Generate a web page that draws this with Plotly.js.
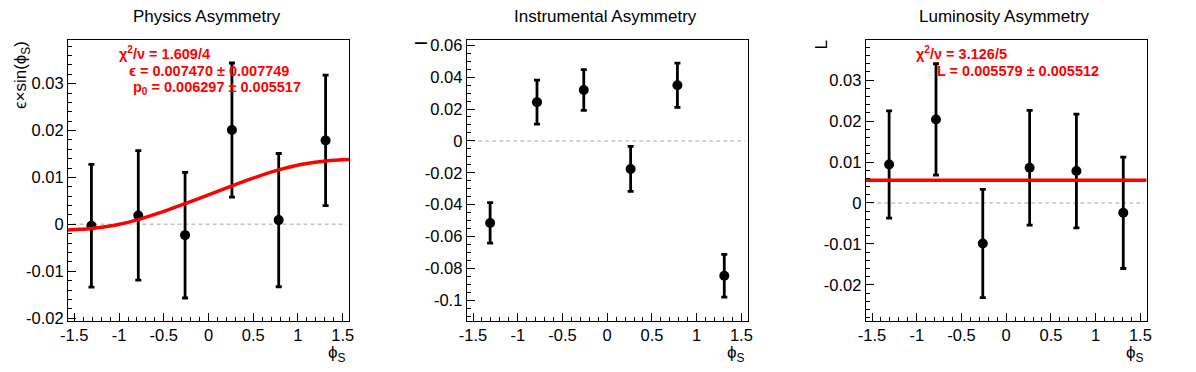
<!DOCTYPE html>
<html><head><meta charset="utf-8">
<script src="https://cdn.plot.ly/plotly-3.0.1.min.js"></script>
<style>html,body{margin:0;padding:0;background:#fff}#c{width:1196px;height:372px}</style>
</head><body><div id="c"></div>
<script>
// ---------- data ----------
const binCenters = [-1.309, -0.785, -0.262, 0.262, 0.785, 1.309];

const physVals = [-0.0003, 0.0019, -0.0023, 0.0201, 0.0009, 0.0179];
const physErrs = [0.0131, 0.0138, 0.0134, 0.0143, 0.0142, 0.0139];

const instVals = [-0.0515, 0.0243, 0.0319, -0.0176, 0.0349, -0.0846];
const instErrs = [0.0127, 0.0138, 0.0128, 0.0141, 0.0139, 0.0134];

const lumiVals = [0.0094, 0.0204, -0.0099, 0.0086, 0.0078, -0.0024];
const lumiErrs = [0.0131, 0.0136, 0.0132, 0.0140, 0.0139, 0.0136];

// fit curve of panel 1
const physFitX = [-1.5708, -1.309, -1.047, -0.785, -0.524, -0.262, 0, 0.262, 0.524, 0.785, 1.047, 1.309, 1.5708];
const physFitY = [-0.0012, -0.0009, -0.0002, 0.0010, 0.0026, 0.0044, 0.0063, 0.0082, 0.0100, 0.0116, 0.0128, 0.0135, 0.0138];
// constant fit of panel 3
const lumiFitX = [-1.5708, 1.5708];
const lumiFitY = [0.005579, 0.005579];

const titles = ["Physics Asymmetry", "Instrumental Asymmetry", "Luminosity Asymmetry"];
const yTitles = ["ϵ×sin(ϕ<sub>S</sub>)", "I", "L"];
const xTitle = "ϕ<sub>S</sub>";
const physStats = ["χ<sup>2</sup>/ν = 1.609/4", "ϵ = 0.007470 ± 0.007749", "p<sub>0</sub> = 0.006297 ± 0.005517"];
const lumiStats = ["χ<sup>2</sup>/ν = 3.126/5", "L = 0.005579 ± 0.005512"];

const xTickVals = [-1.5, -1, -0.5, 0, 0.5, 1, 1.5];
const xTickText = ["-1.5", "-1", "-0.5", "0", "0.5", "1", "1.5"];
const y1TickVals = [-0.02, -0.01, 0, 0.01, 0.02, 0.03];
const y1TickText = ["-0.02", "-0.01", "0", "0.01", "0.02", "0.03"];
const y2TickVals = [-0.1, -0.08, -0.06, -0.04, -0.02, 0, 0.02, 0.04, 0.06];
const y2TickText = ["-0.1", "-0.08", "-0.06", "-0.04", "-0.02", "0", "0.02", "0.04", "0.06"];
const y3TickVals = [-0.02, -0.01, 0, 0.01, 0.02, 0.03];
const y3TickText = ["-0.02", "-0.01", "0", "0.01", "0.02", "0.03"];

// ---------- layout helpers ----------
const W = 1196, H = 372;
const FONT = "Liberation Sans, Arial, Helvetica, sans-serif";
const px = v => v / W;
const py = v => 1 - v / H;
const panelsPx = [[68, 349], [466.7, 747.7], [865.7, 1146.7]];
const yDom = [py(320.5), py(40)];
const xRange = [-Math.PI / 2, Math.PI / 2];
const yRanges = [[-0.0205, 0.0393], [-0.1127, 0.0633], [-0.0287, 0.0398]];
const yMinor = [0.002, 0.005, 0.002];
const yTV = [y1TickVals, y2TickVals, y3TickVals];
const yTT = [y1TickText, y2TickText, y3TickText];
const TICKSIZE = 16.5;

function pts(i, xs, ys, es) {
  const s = i === 0 ? "" : String(i + 1);
  return {
    x: xs, y: ys, type: "scatter", mode: "markers",
    xaxis: "x" + s, yaxis: "y" + s,
    marker: {color: "black", size: 10},
    error_y: {type: "data", array: es, visible: true, color: "black", thickness: 2.8, width: 3},
    showlegend: false, hoverinfo: "skip", cliponaxis: false
  };
}
function line(i, xs, ys) {
  const s = i === 0 ? "" : String(i + 1);
  return {x: xs, y: ys, type: "scatter", mode: "lines", xaxis: "x" + s, yaxis: "y" + s,
    line: {color: "#ff0000", width: 3.5, shape: "spline"}, showlegend: false, hoverinfo: "skip"};
}

const data = [
  pts(0, binCenters, physVals, physErrs),
  line(0, physFitX, physFitY),
  pts(1, binCenters, instVals, instErrs),
  pts(2, binCenters, lumiVals, lumiErrs),
  line(2, lumiFitX, lumiFitY)
];

const layout = {
  width: W, height: H,
  margin: {l: 0, r: 0, t: 0, b: 0},
  paper_bgcolor: "white", plot_bgcolor: "white",
  font: {family: FONT, size: 14, color: "black"},
  showlegend: false,
  shapes: [], annotations: []
};

for (let i = 0; i < 3; i++) {
  const s = i === 0 ? "" : String(i + 1);
  const [l, r] = panelsPx[i];
  layout["xaxis" + s] = {
    domain: [px(l), px(r)], range: xRange, anchor: "y" + s,
    tickmode: "array", tickvals: xTickVals, ticktext: xTickText,
    ticks: "inside", ticklen: 8, tickwidth: 1, tickcolor: "black",
    minor: {tickmode: "linear", tick0: 0, dtick: 0.1, ticks: "inside", ticklen: 4, tickwidth: 1, tickcolor: "black", showgrid: false},
    showline: true, mirror: true, linecolor: "black", linewidth: 1,
    showgrid: false, zeroline: false, fixedrange: true,
    tickfont: {family: FONT, size: TICKSIZE, color: "black"}
  };
  layout["yaxis" + s] = {
    domain: yDom, range: yRanges[i], anchor: "x" + s,
    tickmode: "array", tickvals: yTV[i], ticktext: yTT[i],
    ticks: "inside", ticklen: 8, tickwidth: 1, tickcolor: "black",
    minor: {tickmode: "linear", tick0: 0, dtick: yMinor[i], ticks: "inside", ticklen: 4, tickwidth: 1, tickcolor: "black", showgrid: false},
    showline: true, mirror: true, linecolor: "black", linewidth: 1,
    showgrid: false, zeroline: false, fixedrange: true,
    tickfont: {family: FONT, size: TICKSIZE, color: "black"}
  };
  layout.shapes.push({type: "line", xref: "x" + s, yref: "y" + s,
    x0: -1.52, x1: 1.54, y0: 0, y1: 0,
    line: {color: "#c4c4c4", width: 1.5, dash: "4px,3px"}, layer: "below"});
  layout.annotations.push({text: titles[i], xref: "paper", yref: "paper",
    x: px((l + r) / 2 - 2), y: py(17), xanchor: "center", yanchor: "middle",
    showarrow: false, font: {family: FONT, size: 17, color: "black"}});
  layout.annotations.push({text: xTitle, xref: "paper", yref: "paper",
    x: px(r - 1), y: py(341), xanchor: "right", yanchor: "top",
    showarrow: false, font: {family: FONT, size: 17, color: "black"}});
}
const yTitleX = [22, 421, 821];
for (let i = 0; i < 3; i++) {
  layout.annotations.push({text: yTitles[i], xref: "paper", yref: "paper",
    x: px(yTitleX[i]), y: py(39), xanchor: "center", yanchor: "top", textangle: -90,
    showarrow: false, font: {family: FONT, size: 17, color: "black"}});
}
const statPos1 = [[117, 53], [127, 71], [131, 88]];
physStats.forEach((t, k) => layout.annotations.push({text: "<b>" + t + "</b>", xref: "paper", yref: "paper",
  x: px(statPos1[k][0]), y: py(statPos1[k][1]), xanchor: "left", yanchor: "middle",
  showarrow: false, font: {family: FONT, size: 14.5, color: "#ff0000"}}));
const statPos3 = [[914, 53], [935, 71]];
lumiStats.forEach((t, k) => layout.annotations.push({text: "<b>" + t + "</b>", xref: "paper", yref: "paper",
  x: px(statPos3[k][0]), y: py(statPos3[k][1]), xanchor: "left", yanchor: "middle",
  showarrow: false, font: {family: FONT, size: 14.5, color: "#ff0000"}}));

Plotly.newPlot("c", data, layout, {displayModeBar: false, staticPlot: true});
</script></body></html>
